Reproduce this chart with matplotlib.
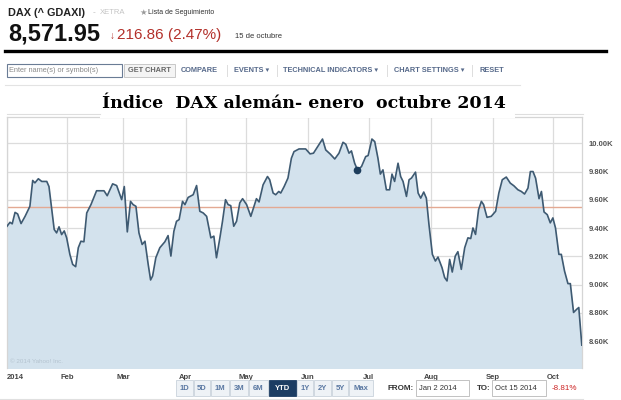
import matplotlib
matplotlib.use('Agg')
import matplotlib.pyplot as plt
from matplotlib.patches import Rectangle
import numpy as np
import pandas as pd

plt.rcParams['font.family'] = ['Liberation Sans', 'DejaVu Sans']

# DAX close: day of year 2014 -> index level
day = [2, 3.5, 4.6, 6, 7.3, 9, 11, 13.4, 14.8, 15.9,
       17.6, 19.3, 21.8, 22.9, 24.2, 25.5, 26.7, 27.9, 29.2, 30.5,
       31.7, 33.3, 34.7, 36.2, 37.5, 38.8, 40.3, 41.7, 43.8, 46.6,
       50.3, 51.9, 54.6, 56.6, 59.1, 60.4, 61.9, 63.5, 64.8, 66.2,
       67.7, 69.3, 70.7, 72.3, 73.5, 74.5, 76.1, 78.1, 80.6, 82.2,
       83.6, 85.1, 86.4, 87.7, 89.4, 90.6, 92.2, 94.7, 96.4, 98,
       99.7, 101.4, 103.5, 105, 106.3, 108, 109.3, 110.8, 112.1, 113.4,
       114.9, 116.3, 117.9, 119.3, 121.3, 123.4, 126.2, 127.5, 129.5, 131.7,
       132.8, 134.5, 135.8, 137.3, 138.3, 140, 141.9, 143.6, 144.9, 147.4,
       150.7, 152.9, 154.6, 157.4, 159.1, 160.7, 163, 165.2, 167.3, 169.3,
       170.7, 172.3, 173.5, 175.1, 176.5, 178.5, 180.6, 181.8, 183.7, 185.1,
       186.7, 187.9, 189.2, 190.9, 192.5, 193.7, 195, 196.7, 198, 199.2,
       200.9, 202.2, 203.4, 205.4, 206.7, 208, 209.5, 210.8, 212.1, 213.8,
       215.3, 216.6, 218.6, 219.9, 221.1, 222.4, 223.7, 225.2, 226.5, 228.2,
       229.9, 231.5, 232.9, 234, 235.3, 236.8, 238.2, 239.3, 241, 243.1,
       245.3, 246.9, 248.6, 250.6, 252.6, 254.4, 256.4, 258.1, 259.7, 261.4,
       262.6, 263.9, 265.2, 266.9, 268.1, 269.4, 271, 272.5, 273.8, 275.1,
       276.8, 278, 279.6, 281.3, 282.5, 284.1, 285.7, 286.7, 288.2]
close = [9413, 9441, 9430, 9511, 9500, 9432, 9483, 9554, 9737, 9720,
         9749, 9730, 9730, 9694, 9542, 9390, 9366, 9409, 9354, 9380,
         9331, 9214, 9143, 9127, 9261, 9307, 9303, 9507, 9566, 9664,
         9664, 9629, 9713, 9701, 9601, 9694, 9373, 9589, 9566, 9554,
         9366, 9284, 9307, 9143, 9033, 9061, 9190, 9261, 9303, 9347,
         9202, 9378, 9448, 9460, 9589, 9566, 9617, 9636, 9701, 9519,
         9507, 9483, 9331, 9343, 9190, 9331, 9448, 9601, 9566, 9559,
         9413, 9448, 9578, 9608, 9566, 9483, 9608, 9585, 9706, 9765,
         9742, 9648, 9636, 9659, 9648, 9694, 9754, 9894, 9941, 9960,
         9960, 9925, 9930, 9993, 10030, 9953, 9923, 9889, 9930, 10007,
         9993, 9930, 9946, 9859, 9812, 9835, 9906, 9913, 10030, 10012,
         9894, 9782, 9812, 9671, 9671, 9782, 9730, 9859, 9765, 9730,
         9624, 9742, 9754, 9796, 9648, 9612, 9655, 9612, 9425, 9214,
         9167, 9195, 9120, 9050, 9026, 9178, 9089, 9202, 9233, 9108,
         9261, 9331, 9326, 9401, 9355, 9530, 9589, 9566, 9476, 9483,
         9519, 9648, 9742, 9761, 9718, 9699, 9671, 9659, 9641, 9683,
         9800, 9800, 9753, 9608, 9659, 9514, 9495, 9437, 9472, 9401,
         9214, 9214, 9096, 9007, 9007, 8803, 8826, 8838, 8572]

prev_close = 9552          # red reference line
marker_day = 176.5         # highlighted point
marker_val = 9812

month_days = [2, 32, 60, 91, 121, 152, 182, 213, 244, 274]
month_labels = ['2014', 'Feb', 'Mar', 'Apr', 'May', 'Jun', 'Jul', 'Aug', 'Sep', 'Oct']
ytick_vals = [8600, 8800, 9000, 9200, 9400, 9600, 9800, 10000]
ytick_labels = ['8.60K', '8.80K', '9.00K', '9.20K', '9.40K', '9.60K', '9.80K', '10.00K']

periods = ['1D', '5D', '1M', '3M', '6M', 'YTD', '1Y', '2Y', '5Y', 'Max']
menu = ['COMPARE', 'EVENTS \u25be', 'TECHNICAL INDICATORS \u25be', 'CHART SETTINGS \u25be', 'RESET']

base = pd.Timestamp('2014-01-01')
def to_date(d):
    return base + pd.to_timedelta(np.asarray(d, dtype=float) - 1, unit='D')

dates = to_date(day)

fig = plt.figure(figsize=(6.21, 4.0), dpi=100)
fig.patch.set_facecolor('white')

# chart
ax = fig.add_axes([7 / 621, 1 - 368 / 400, 575 / 621, 251 / 400], zorder=1)
ax.fill_between(dates, close, 8000, color='#d3e2ed', lw=0, zorder=1)
ax.plot(dates, close, color='#3e5a72', lw=1.2, zorder=3)
ax.axhline(prev_close, color='#e3a993', lw=1, zorder=2)
ax.plot(to_date([marker_day]), [marker_val], 'o', color='#1d3d5c', ms=4.5, zorder=4)

ax.set_xlim(to_date([2])[0], to_date([288.3])[0])
ax.set_ylim(8410, 10186)
ax.set_xticks(to_date(month_days))
ax.set_xticklabels(month_labels)
ax.set_yticks(ytick_vals)
ax.set_yticklabels(ytick_labels)
ax.yaxis.tick_right()
ax.tick_params(length=0, labelsize=5.5, labelcolor='#555555')
ax.tick_params(axis='x', pad=4, labelcolor='#444444')
ax.tick_params(axis='y', pad=5)
for t in ax.get_xticklabels() + ax.get_yticklabels():
    t.set_fontweight('bold')
ax.get_xticklabels()[0].set_ha('left')
ax.grid(True, color='#dcdcdc', lw=0.9, zorder=0)
ax.set_axisbelow(True)
for s in ax.spines.values():
    s.set_color('#d5d5d5')
    s.set_linewidth(0.9)
ax.spines['bottom'].set_visible(False)
ax.text(0.006, 0.02, '\u00a9 2014 Yahoo! Inc.', transform=ax.transAxes, fontsize=4.5,
        color='#b5c4d0', zorder=5)

# page furniture in pixel coordinates
ov = fig.add_axes([0, 0, 1, 1], zorder=5)
ov.set_xlim(0, 621)
ov.set_ylim(400, 0)
ov.axis('off')
ov.patch.set_alpha(0)

ov.text(8, 13, 'DAX (^ GDAXI)', fontsize=7.8, weight='bold', color='#222222', va='center')
ov.text(93, 13, '-', fontsize=6, color='#bbbbbb', va='center')
ov.text(100, 13, 'XETRA', fontsize=5.5, color='#c4c4c4', va='center')
ov.text(139, 13, '\u2605', fontsize=6, color='#9a9a9a', va='center')
ov.text(148, 13, 'Lista de Seguimiento', fontsize=5, color='#333333', va='center')
ov.text(8, 34, '8,571.95', fontsize=17, weight='bold', color='#111111', va='center')
ov.text(110, 36, '\u2193', fontsize=7, color='#b3302a', va='center')
ov.text(117, 35, '216.86 (2.47%)', fontsize=11, color='#b3302a', va='center')
ov.text(235, 37, '15 de octubre', fontsize=5.5, color='#333333', va='center')
ov.plot([5, 606], [51, 51], color='black', lw=2.4)

# toolbar
ov.add_patch(Rectangle((7, 64), 115, 13, fc='white', ec='#6a7c95', lw=0.8))
ov.text(9, 70.5, 'Enter name(s) or symbol(s)', fontsize=5.3, color='#8a8a8a', va='center')
ov.add_patch(Rectangle((124, 64), 51, 13, fc='#f4f4f4', ec='#c8c8c8', lw=0.7))
ov.text(149.5, 70.5, 'GET CHART', fontsize=5.3, weight='bold', color='#666666', va='center', ha='center')
menu_x = [181, 234, 283, 394, 479]
for mx, label in zip(menu_x, menu):
    ov.text(mx, 70.5, label, fontsize=5.3, weight='bold', color='#56698a', va='center')
for sx in [227, 277, 387, 472]:
    ov.plot([sx, sx], [65, 76], color='#dddddd', lw=0.7)
ov.plot([5, 520], [85, 85], color='#e3e3e3', lw=0.8)

# title overlay
ov.add_patch(Rectangle((100, 88), 415, 30, fc='white', ec='none'))
ov.text(304, 103, '\u00cdndice  DAX alem\u00e1n- enero  octubre 2014', family='DejaVu Serif',
        weight='bold', fontsize=12.5, ha='center', va='center', color='black')
ov.plot([7, 100], [114, 114], color='#dedede', lw=0.8)
ov.plot([515, 583], [114, 114], color='#dedede', lw=0.8)

# period buttons
bx = [176, 194, 211, 230, 249, 269, 297, 314, 332, 349]
bw = [17, 16, 18, 18, 19, 27, 16, 17, 16, 24]
for x0, w, p in zip(bx, bw, periods):
    sel = p == 'YTD'
    ov.add_patch(Rectangle((x0, 380), w, 16, fc='#1c3d63' if sel else '#eef2f6',
                           ec='#1c3d63' if sel else '#c9d2dc', lw=0.6))
    ov.text(x0 + w / 2, 388.5, p, fontsize=5.5, weight='bold', ha='center', va='center',
            color='white' if sel else '#5a78a2')
ov.text(388, 388.5, 'FROM:', fontsize=5.8, weight='bold', color='#333333', va='center')
ov.add_patch(Rectangle((416, 380), 53, 16, fc='white', ec='#b8b8b8', lw=0.6))
ov.text(419, 388.5, 'Jan 2 2014', fontsize=5.5, color='#333333', va='center')
ov.text(477, 388.5, 'TO:', fontsize=5.8, weight='bold', color='#333333', va='center')
ov.add_patch(Rectangle((492, 380), 54, 16, fc='white', ec='#b8b8b8', lw=0.6))
ov.text(495, 388.5, 'Oct 15 2014', fontsize=5.5, color='#333333', va='center')
ov.text(552, 388.5, '-8.81%', fontsize=5.8, color='#cc2222', va='center')
ov.plot([0, 583], [398.5, 398.5], color='#e0e0e0', lw=0.8)

fig.savefig('out.png', dpi=100, facecolor='white')
